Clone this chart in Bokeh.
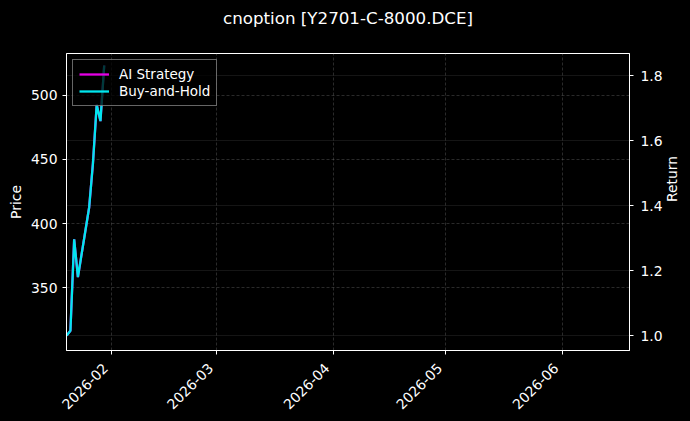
import pandas as pd
from bokeh.plotting import figure
from bokeh.models import (Range1d, LinearAxis, FixedTicker, PrintfTickFormatter,
                          DatetimeTickFormatter, Grid, Legend, LegendItem, Title)
from bokeh.embed import file_html
from bokeh.resources import INLINE
import math

# ---- data ----
dates = ["2026-01-20", "2026-01-21", "2026-01-22", "2026-01-23", "2026-01-26",
         "2026-01-27", "2026-01-28", "2026-01-29", "2026-01-30"]
buy_and_hold = [1.000, 1.015, 1.296, 1.180, 1.395, 1.530, 1.710, 1.660, 1.831]
ai_strategy = [1.000, 1.015, 1.296, 1.180, 1.395, 1.530, 1.710, 1.660, 1.831]
price_ticks = [350, 400, 450, 500]
return_ticks = [1.0, 1.2, 1.4, 1.6, 1.8]
month_ticks = ["2026-02-01", "2026-03-01", "2026-04-01", "2026-05-01", "2026-06-01"]
title_text = "cnoption [Y2701-C-8000.DCE]"

x = pd.to_datetime(dates)
x_start = pd.Timestamp("2026-01-19 23:00")
x_end = pd.Timestamp("2026-06-18 21:30")

FONT = "DejaVu Sans"
FS = "13.9px"

p = figure(width=690, height=421, x_axis_type="datetime",
           output_backend="svg", toolbar_location=None,
           x_range=Range1d(x_start, x_end), y_range=Range1d(301.2, 532.5),
           min_border_left=66, min_border_right=61, min_border_top=51, min_border_bottom=69)
p.background_fill_color = "black"
p.border_fill_color = "black"
p.outline_line_color = "white"
p.outline_line_width = 1

p.title.text = title_text
p.title.align = "center"
p.title.text_color = "white"
p.title.text_font = FONT
p.title.text_font_size = "16.7px"
p.title.text_font_style = "normal"
# spacer between title and frame
p.add_layout(Title(text=" ", text_font_size="17px", standoff=0), "above")

p.extra_y_ranges = {"ret": Range1d(0.954, 1.868)}
right_axis = LinearAxis(y_range_name="ret", axis_label="Return")
p.add_layout(right_axis, "right")

# axes style
for ax in [p.xaxis[0], p.yaxis[0], right_axis]:
    ax.axis_line_color = "white"
    ax.major_tick_line_color = "white"
    ax.minor_tick_line_color = None
    ax.major_tick_in = 0
    ax.major_tick_out = 4
    ax.major_label_standoff = 5
    ax.major_label_text_color = "white"
    ax.major_label_text_font = FONT
    ax.major_label_text_font_size = FS
    ax.axis_label_text_color = "white"
    ax.axis_label_text_font = FONT
    ax.axis_label_text_font_size = FS
    ax.axis_label_text_font_style = "normal"

right_axis.major_label_standoff = 7
right_axis.axis_label_standoff = 6
if "axis_label_orientation" in right_axis.properties():
    right_axis.axis_label_orientation = math.pi / 2

p.yaxis[0].axis_label = "Price"
p.yaxis[0].axis_label_standoff = 4
p.yaxis[0].ticker = FixedTicker(ticks=price_ticks)
right_axis.ticker = FixedTicker(ticks=return_ticks)
right_axis.formatter = PrintfTickFormatter(format="%.1f")

xt = [pd.Timestamp(d).value / 1e6 for d in month_ticks]
p.xaxis[0].ticker = FixedTicker(ticks=xt)
fmt = "%Y-%m\u00a0\u00a0"
p.xaxis[0].formatter = DatetimeTickFormatter(days=fmt, months=fmt, years=fmt, hours=fmt)
p.xaxis[0].major_label_orientation = math.pi / 4

# grids
for g in [p.xgrid[0], p.ygrid[0]]:
    g.grid_line_color = "#808080"
    g.grid_line_alpha = 0.55
    g.grid_line_dash = "3 2"
    g.grid_line_width = 0.6
rgrid = Grid(dimension=1, ticker=right_axis.ticker, y_range_name="ret",
             grid_line_color="#808080", grid_line_alpha=0.55,
             grid_line_dash="1 1", grid_line_width=0.6)
p.add_layout(rgrid)

# lines
r_ai = p.line(x, ai_strategy, y_range_name="ret", line_color="#e600e6", line_width=2.3)
r_bh = p.line(x, buy_and_hold, y_range_name="ret", line_color="#00e6ee", line_width=2.3)

legend = Legend(items=[LegendItem(label="AI Strategy", renderers=[r_ai]),
                       LegendItem(label="Buy-and-Hold", renderers=[r_bh])],
                location="top_left", margin=6, padding=6, spacing=1,
                label_height=16, glyph_height=16, glyph_width=30, label_standoff=10,
                background_fill_color="black", background_fill_alpha=0.75,
                border_line_color="#cccccc", border_line_width=1,
                label_text_color="white", label_text_font=FONT,
                label_text_font_size="13.5px")
p.add_layout(legend)

html = file_html(p, INLINE)
html = html.replace("</head>", "<style>html, body { background: #000000; }</style></head>", 1)
open("out.html", "w").write(html)
